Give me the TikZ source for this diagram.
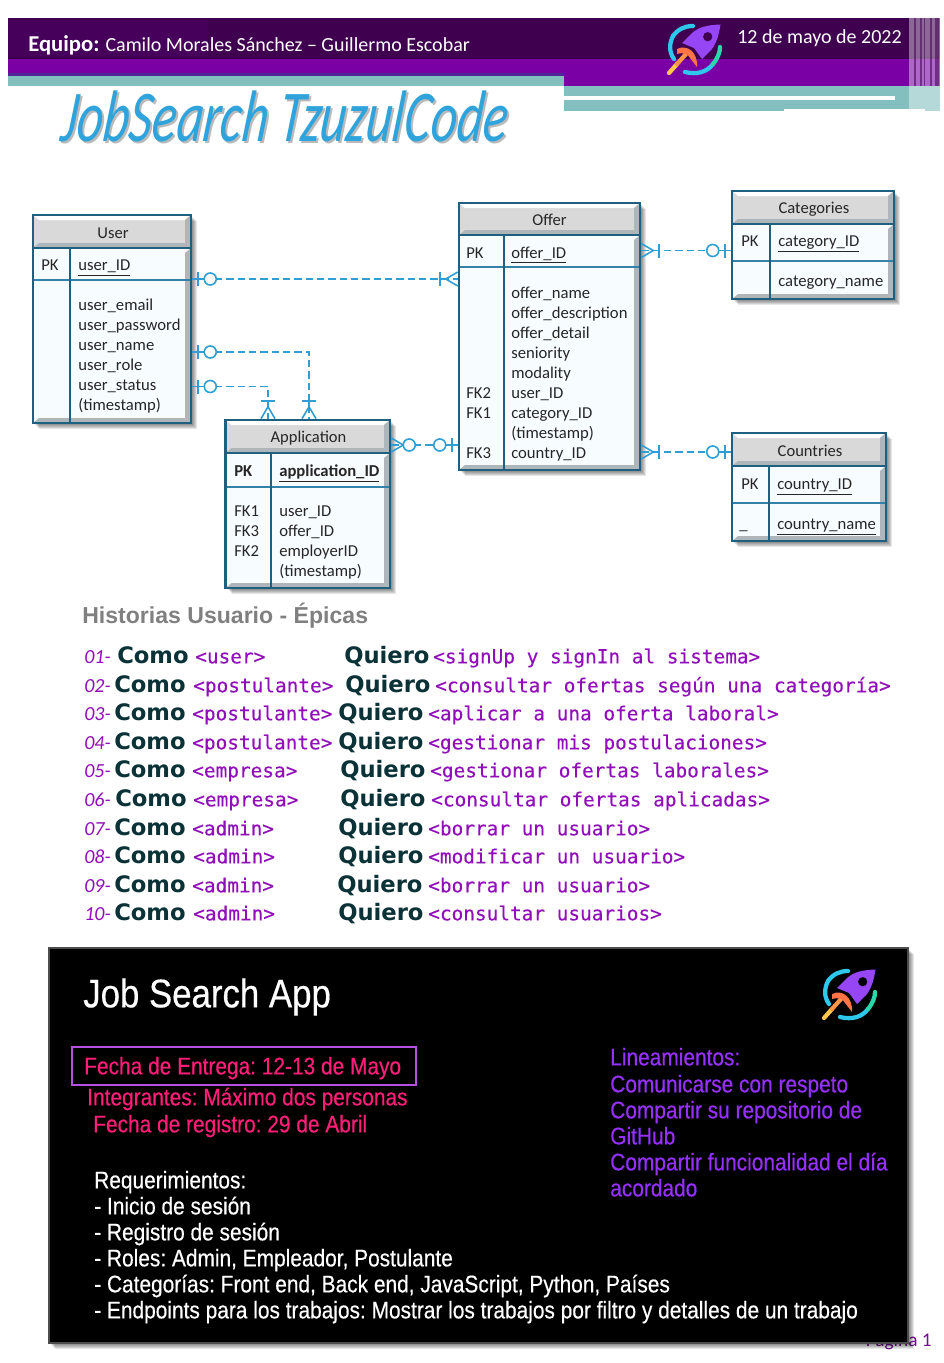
\documentclass[tikz,border=0pt]{standalone}
\usepackage{fontspec}
\usepackage{graphicx}
\usepackage{tikz}
\usetikzlibrary{calc}
\setmainfont{Carlito}
\newfontfamily\storyfont[FakeBold=0.25]{DejaVu Sans Mono}
\newfontfamily\verbfont{DejaVu Sans}
\newfontfamily\headfont{Liberation Sans}
\newfontfamily\panelfont[FakeStretch=0.87,FakeBold=0.4]{Liberation Sans}
\definecolor{band_dark}{RGB}{63, 0, 80}
\definecolor{band_patch}{RGB}{70, 0, 92}
\definecolor{band_purple}{RGB}{122, 0, 166}
\definecolor{band_seam}{RGB}{80, 40, 150}
\definecolor{band_teal}{RGB}{132, 191, 192}
\definecolor{er_frame}{RGB}{31, 96, 128}
\definecolor{er_rule}{RGB}{50, 130, 170}
\definecolor{er_light}{RGB}{247, 253, 255}
\definecolor{er_title}{RGB}{217, 217, 217}
\definecolor{er_edge}{RGB}{175, 182, 186}
\definecolor{rel_blue}{RGB}{46, 158, 212}
\definecolor{title_blue}{RGB}{46, 163, 220}
\definecolor{story_purple}{RGB}{145, 15, 185}
\definecolor{verb_dark}{RGB}{10, 50, 55}
\definecolor{panel_pink}{RGB}{255, 30, 120}
\definecolor{panel_violet}{RGB}{150, 48, 255}
\definecolor{panel_box}{RGB}{180, 80, 225}
\definecolor{logo_rocket}{RGB}{150, 70, 245}
\definecolor{logo_cyan}{RGB}{45, 200, 235}
\definecolor{logo_green}{RGB}{40, 215, 170}
\definecolor{logo_orange}{RGB}{255, 115, 70}
\definecolor{logo_yellow}{RGB}{255, 200, 75}
\tikzstyle{entbody}=[rectangle,draw=er_frame,fill=er_light,line width=1.9pt,inner sep=0pt]
\tikzstyle{softshade}=[fill=black,opacity=0.1]
\tikzstyle{erline}=[draw=er_frame,line width=1.5pt]
\tikzstyle{ertitle}=[inner sep=0pt,yshift=-1pt,font=\fontsize{12.4pt}{14pt}\selectfont,text=black!85]
\tikzstyle{erfield}=[inner sep=0pt,anchor=west,yshift=-1.5pt,text height=0.75em,text depth=0.25em,
  font=\fontsize{12.5pt}{14pt}\selectfont,text=black!85]
\tikzstyle{relline}=[draw=rel_blue,line width=1.2pt,dash pattern=on 5.5pt off 3pt]
\tikzstyle{relmark}=[draw=rel_blue,line width=1.2pt]
\tikzstyle{storytext}=[inner sep=0pt,anchor=west,yshift=-3pt,text height=0.75em,text depth=0.25em,text=story_purple,
  font=\storyfont\fontsize{14.55pt}{16pt}\selectfont]
\tikzstyle{storynum}=[inner sep=0pt,anchor=west,yshift=-3pt,text height=0.75em,text depth=0.25em,text=story_purple,
  font=\itshape\fontsize{15pt}{16pt}\selectfont]
\tikzstyle{storyverb}=[inner sep=0pt,anchor=west,xshift=-0.75pt,yshift=-3pt,text height=0.75em,text depth=0.25em,text=verb_dark,
  font=\verbfont\bfseries\fontsize{17pt}{18pt}\selectfont]
\tikzstyle{paneltext}=[inner sep=0pt,anchor=west,yshift=-3pt,text height=0.75em,text depth=0.25em,text=white,
  font=\panelfont\frenchspacing\fontsize{18pt}{20pt}\selectfont]
\tikzstyle{pinktext}=[style=paneltext,text=panel_pink]
\tikzstyle{violettext}=[style=paneltext,text=panel_violet]
\tikzset{
  pics/zeroone/.style={code={
    \draw[style=relmark] (0,0) -- (12,0);
    \draw[style=relmark] (6,-7) -- (6,7);
    \draw[style=relmark,fill=white] (18,0) circle (6);
  }},
  pics/crowone/.style={code={
    \draw[style=relmark] (0,-7) -- (12,0) -- (0,7);
    \draw[style=relmark] (12,0) -- (18,0);
    \draw[style=relmark] (18,-7) -- (18,7);
  }},
  pics/crowzero/.style={code={
    \draw[style=relmark] (0,-7) -- (12,0) -- (0,7);
    \draw[style=relmark,fill=white] (18,0) circle (6);
  }},
  pics/rocketlogo/.style={code={
    \draw[line width=3.2pt,logo_cyan,line cap=round] (36,12) .. controls (28,12) and (21,15) .. (16,22);
    \draw[line width=3.2pt,logo_cyan,line cap=round] (16,22) .. controls (12,30) and (12,38) .. (17,45);
    \draw[line width=3.2pt,logo_cyan,line cap=round] (28,58) .. controls (40,61) and (50,58) .. (56,50);
    \draw[line width=3.2pt,logo_green,line cap=round] (56,50) .. controls (61,44) and (63,38) .. (63,33);
    \fill[logo_rocket] (63.5,10.5) .. controls (50,11) and (42,13) .. (35,19)
      -- (25,29) -- (37,34) -- (45,45) -- (55,35) .. controls (60,28) and (62,20) .. (63.5,10.5);
    \fill[#1] (50.7,22.7) circle (4.6);
    \draw[line width=3.2pt,logo_yellow,line cap=round] (12,59) -- (20,50);
    \draw[line width=3.2pt,logo_orange!60!logo_yellow,line cap=round] (20,50) -- (29,40);
    \fill[logo_orange] (20,35) .. controls (30,30) and (41,38) .. (40,53) -- (33,44) .. controls (31,40) and (27,38) .. (20,40) -- cycle;
  }}
}
\newcommand{\softshadow}[4]{
  \foreach \s in {1,...,6}
    \fill[style=softshade] (#1+\s,#2+\s) rectangle (#3+\s,#4+\s);
}
\newcommand{\erbox}[8]{
  % shadow, frame, title bar, bevels, rules
  \softshadow{#2}{#3}{#4}{#5}
  \node [style=entbody,minimum width=#4*0.75pt-#2*0.75pt,minimum height=#5*0.75pt-#3*0.75pt] (#1) at ({(#2+#4)/2},{(#3+#5)/2}) {};
  \fill[er_title] (#2,#3) rectangle (#4,#6);
  \fill[white] (#2,#3) -- (#4,#3) -- (#4-6,#3+5) -- (#2+6,#3+5) -- cycle;
  \fill[er_edge] (#2,#6) -- (#4,#6) -- (#4-6,#6-5) -- (#2+6,#6-5) -- cycle;
  \fill[er_edge] (#4,#3) -- (#4,#6) -- (#4-6,#6-5) -- (#4-6,#3+5) -- cycle;
  \fill[er_edge] (#4,#6) -- (#4,#5) -- (#4-6,#5-5) -- (#4-6,#6+5) -- cycle;
  \fill[er_edge] (#2,#5) -- (#4,#5) -- (#4-6,#5-5) -- (#2+6,#5-5) -- cycle;
  \draw[style=erline] (#2,#6) -- (#4,#6);
  \draw[draw=er_rule,line width=1.2pt] (#2,#7) -- (#4,#7);
  \draw[style=erline] (#8,#6) -- (#8,#5);
  \draw[draw=er_frame,line width=1.9pt] (#2,#3) rectangle (#4,#5);
}
\begin{document}
\begin{tikzpicture}[x=0.75pt,y=-0.75pt]
  \useasboundingbox (0,0) rectangle (943,1363);
  % header band
  \fill[band_dark] (8,18) rectangle (940,59);
  \fill[band_patch] (8,20) rectangle (208,56);
  \fill[band_purple] (8,59) rectangle (940,86);
  \fill[band_seam] (8,73) rectangle (564,76);
  \fill[band_teal] (8,76) rectangle (564,86);
  \fill[band_teal] (564,86) rectangle (940,111);
  \fill[white] (564,96) rectangle (895,100);
  \fill[white] (784,109) rectangle (925,112);
  \fill[white,opacity=0.4] (909,18) rectangle (940,112);
  \foreach \xs/\ws in {914/2,920/2,924/1,930/2,935/4}
    \fill[band_dark,opacity=0.55] (\xs,18) rectangle (\xs+\ws,86);
  \node [inner sep=0pt,anchor=west,text=white,font=\fontsize{15pt}{16pt}\selectfont] (team) at (28,45.5)
    {\textbf{\fontsize{17pt}{16pt}\selectfont Equipo:} Camilo Morales Sánchez -- Guillermo Escobar};
  \node [inner sep=0pt,anchor=west,text=white,font=\fontsize{15pt}{16pt}\selectfont] (date) at (737,38) {12 de mayo de 2022};
  \pic at (657,14) {rocketlogo=band_dark};
  % title
  \node [inner sep=0pt,text=black!45,opacity=0.6,xslant=0.12,transform shape] (brand_s) at (287.5,118.5)
    {\resizebox{335pt}{38pt}{\itshape JobSearch TzuzulCode}};
  \node [inner sep=0pt,text=title_blue,xslant=0.12,transform shape] (brand) at (285.5,116)
    {\resizebox{335pt}{38pt}{\itshape JobSearch TzuzulCode}};
  % tables
  \erbox{user}{33}{215}{191}{423}{248}{280}{70}
  \erbox{application}{225.5}{420}{390}{588}{453}{487}{271}
  \erbox{offer}{459}{203}{640}{470}{235}{267}{504}
  \erbox{categories}{732}{191}{894}{299}{224}{261}{770}
  \erbox{countries}{732}{433}{886}{541}{466}{503}{769}
  % user
  \node [style=ertitle] (user_t) at (113,232) {User};
  \node [style=erfield] (user_k) at (41,265.5) {PK};
  \node [style=erfield] (user_id) at (78,265.5) {\underline{user\_ID}};
  \foreach \fname [count=\i] in {user\_email,user\_password,user\_name,user\_role,user\_status,(timestamp)}
    \node [style=erfield] (user_f\i) at (78,{285.5+20*\i}) {\fname};
  % application
  \node [style=ertitle] (application_t) at (308.5,437) {Application};
  \node [style=erfield] (application_k) at (234,471) {\textbf{PK}};
  \node [style=erfield] (application_id) at (279,471) {\textbf{\underline{application\_ID}}};
  \foreach \fkey/\fname [count=\i] in {FK1/user\_ID,FK3/offer\_ID,FK2/employerID,/(timestamp)} {
    \node [style=erfield] (application_a\i) at (234,{491+20*\i}) {\fkey};
    \node [style=erfield] (application_f\i) at (279,{491+20*\i}) {\fname};
  }
  % offer
  \node [style=ertitle] (offer_t) at (549.5,219) {Offer};
  \node [style=erfield] (offer_k) at (466,253) {PK};
  \node [style=erfield] (offer_id) at (511,253) {\underline{offer\_ID}};
  \foreach \fkey/\fname [count=\i] in {/offer\_name,/offer\_description,/offer\_detail,/seniority,/modality,FK2/user\_ID,FK1/category\_ID,/(timestamp),FK3/country\_ID} {
    \node [style=erfield] (offer_a\i) at (466,{273+20*\i}) {\fkey};
    \node [style=erfield] (offer_f\i) at (511,{273+20*\i}) {\fname};
  }
  % categories
  \node [style=ertitle] (categories_t) at (814,208) {Categories};
  \node [style=erfield] (categories_k) at (741,241) {PK};
  \node [style=erfield] (categories_id) at (778,241) {\underline{category\_ID}};
  \node [style=erfield] (categories_f) at (778,281) {category\_name};
  % countries
  \node [style=ertitle] (countries_t) at (810,450) {Countries};
  \node [style=erfield] (countries_k) at (741,484) {PK};
  \node [style=erfield] (countries_id) at (777,484) {\underline{country\_ID}};
  \node [style=erfield] (countries_a) at (739,524) {\_};
  \node [style=erfield] (countries_f) at (777,524) {\underline{country\_name}};
  % connectors
  \coordinate (pin_uo) at (0,279);
  \coordinate (pin_ua) at (0,352);
  \coordinate (pin_ub) at (0,386.5);
  \coordinate (pin_ao) at (0,445);
  \coordinate (pin_oc) at (0,250.5);
  \coordinate (pin_ot) at (0,452);
  \coordinate (pin_a) at (309,0);
  \coordinate (pin_b) at (268,0);
  \draw [style=relline] (user.east |- pin_uo) to (offer.west |- pin_uo);
  \draw [style=relline] (user.east |- pin_ua) -| (pin_a |- application.north);
  \draw [style=relline] (user.east |- pin_ub) -| (pin_b |- application.north);
  \draw [style=relline] (application.east |- pin_ao) to (offer.west |- pin_ao);
  \draw [style=relline] (offer.east |- pin_oc) to (categories.west |- pin_oc);
  \draw [style=relline] (offer.east |- pin_ot) to (countries.west |- pin_ot);
  \pic at (user.east |- pin_uo) {zeroone};
  \pic [rotate=180] at (offer.west |- pin_uo) {crowone};
  \pic at (user.east |- pin_ua) {zeroone};
  \pic at (user.east |- pin_ub) {zeroone};
  \pic [rotate=90] at (pin_a |- application.north) {crowone};
  \pic [rotate=90] at (pin_b |- application.north) {crowone};
  \pic at (application.east |- pin_ao) {crowzero};
  \pic [rotate=180] at (offer.west |- pin_ao) {zeroone};
  \pic at (offer.east |- pin_oc) {crowone};
  \pic [rotate=180] at (categories.west |- pin_oc) {zeroone};
  \pic at (offer.east |- pin_ot) {crowone};
  \pic [rotate=180] at (countries.west |- pin_ot) {zeroone};
  % stories
  \node [inner sep=0pt,anchor=west,text=black!50,font=\headfont\bfseries\fontsize{17.3pt}{18pt}\selectfont] (epics) at (82,616) {Historias Usuario - Épicas};
  \foreach \num/\yy/\xa/\xb/\xc/\xd/\who/\what in {
    01/656/118/195/345/433/user/signUp y signIn al sistema,
    02/685/115/193/346/435/postulante/consultar ofertas según una categoría,
    03/713/115/192/339/428/postulante/aplicar a una oferta laboral,
    04/742/115/192/339/428/postulante/gestionar mis postulaciones,
    05/770/115/192/341/430/empresa/gestionar ofertas laborales,
    06/799/116/193/341/431/empresa/consultar ofertas aplicadas,
    07/828/115/192/339/428/admin/borrar un usuario,
    08/856/115/193/339/428/admin/modificar un usuario,
    09/885/115/192/338/428/admin/borrar un usuario,
    10/913/115/193/339/428/admin/consultar usuarios} {
    \node [style=storynum] (num\num) at (84,\yy) {\num-};
    \node [style=storyverb] (como\num) at (\xa,\yy) {Como};
    \node [style=storytext] (who\num) at (\xb,\yy) {<\who>};
    \node [style=storyverb] (quiero\num) at (\xc,\yy) {Quiero};
    \node [style=storytext] (what\num) at (\xd,\yy) {<\what>};
  }
  % page number sits behind the panel
  \node [inner sep=0pt,anchor=east,text=story_purple!80!black,font=\fontsize{14.5pt}{16pt}\selectfont] (page) at (932,1341) {Página 1};
  % panel
  \softshadow{49}{948}{908}{1343}
  \node [rectangle,fill=black,draw=black!70,line width=0.8pt,inner sep=0pt,minimum width=644.25pt,minimum height=296.25pt] (panel) at (478.5,1145.5) {};
  \node [inner sep=0pt,anchor=west,text=white,font=\panelfont\fontsize{30pt}{32pt}\selectfont] (app) at (83,997) {Job Search App};
  \pic at (812,959) {rocketlogo=black};
  \node [draw=panel_box,line width=1.4pt,minimum width=258pt,minimum height=29pt,inner sep=0pt] (datebox) at (244,1066) {};
  \node [style=pinktext] (delivery) at (84,1067) {Fecha de Entrega: 12-13 de Mayo};
  \node [style=pinktext] (members) at (87,1098) {Integrantes: Máximo dos personas};
  \node [style=pinktext] (signup) at (93,1125) {Fecha de registro: 29 de Abril};
  \foreach \line/\yy [count=\i] in {Lineamientos:/1058,Comunicarse con respeto/1085,Compartir su repositorio de/1111,GitHub/1137,Compartir funcionalidad el día/1163,acordado/1189}
    \node [style=violettext] (rule\i) at (610,\yy) {\line};
  \foreach \line/\yy [count=\i] in {Requerimientos:/1181,- Inicio de sesión/1207,- Registro de sesión/1233,- Roles: Admin{,} Empleador{,} Postulante/1259,- Categorías: Front end{,} Back end{,} JavaScript{,} Python{,} Países/1285,- Endpoints para los trabajos: Mostrar los trabajos por filtro y detalles de un trabajo/1311}
    \node [style=paneltext] (need\i) at (94,\yy) {\line};
\end{tikzpicture}
\end{document}
